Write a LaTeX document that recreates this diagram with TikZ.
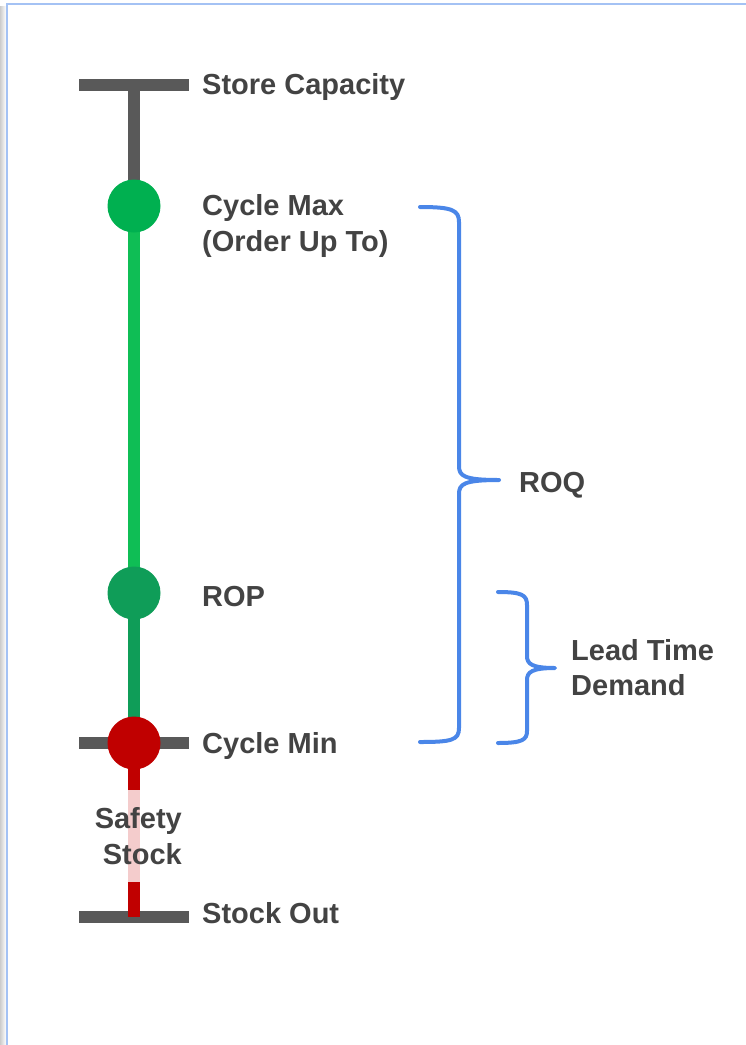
\documentclass[tikz,border=0pt]{standalone}
\usepackage{fontspec}
\setmainfont{Liberation Sans}
\definecolor{txt}{HTML}{434343}
\definecolor{bar}{HTML}{595959}
\definecolor{gcirc}{HTML}{00B050}
\definecolor{gline}{HTML}{0FBE55}
\definecolor{dgreen}{HTML}{0F9D58}
\definecolor{red1}{HTML}{C00000}
\definecolor{pink1}{HTML}{F4CCCC}
\definecolor{blue1}{HTML}{4A86E8}
\definecolor{frame1}{HTML}{A4C2F4}
\begin{document}
\begin{tikzpicture}[x=1pt,y=-1pt,
  lbl/.style={anchor=base west,inner sep=0pt,text=txt,font=\fontsize{29}{35}\selectfont\bfseries,align=left},
  barline/.style={line width=12pt,draw=bar},
  vline/.style={line width=12pt},
  dot/.style={circle,minimum size=53pt,inner sep=0pt},
  bracepath/.style={line width=4pt,draw=blue1,line cap=round,line join=round}]
\useasboundingbox (0,0) rectangle (746,1045);
% frame
\shade[left color=black!20,right color=white] (0,6) rectangle (6,1045);
\draw[frame1,line width=2pt] (6.5,1045) -- (6.5,3.5) -- (746,3.5);
% bars
\coordinate (capL) at (79,85); \coordinate (capR) at (189,85); \coordinate (capC) at (134,85);
\coordinate (minL) at (79,743); \coordinate (minR) at (189,743);
\coordinate (outL) at (79,917); \coordinate (outR) at (189,917); \coordinate (outC) at (134,917);
\coordinate (ss1) at (134,790); \coordinate (ss2) at (134,882);
\draw[barline] (capL) -- (capR);
\draw[barline] (minL) -- (minR);
\draw[barline] (outL) -- (outR);
% circles (positions)
\path (134,206) coordinate (cmaxC) (134,593) coordinate (ropC) (134,743) coordinate (cminC);
\draw[vline,draw=bar] (capC) -- (cmaxC);
\draw[vline,draw=gline] (cmaxC) -- (ropC);
\draw[vline,draw=dgreen] (ropC) -- (cminC);
\draw[vline,draw=red1] (cminC) -- (ss1);
\draw[vline,draw=pink1] (ss1) -- (ss2);
\draw[vline,draw=red1] (ss2) -- (outC);
\node[dot,fill=gcirc] (cmax) at (cmaxC) {};
\node[dot,fill=dgreen] (rop) at (ropC) {};
\node[dot,fill=red1] (cmin) at (cminC) {};
% labels (multi-line nodes: base = last line)
\node[lbl] (tcap) at (202,94) {Store Capacity};
\node[lbl,font=\fontsize{29}{36}\selectfont\bfseries] (tcmax) at (202,251) {Cycle Max\\(Order Up To)};
\node[lbl] (trop) at (202,606) {ROP};
\node[lbl] (tcmin) at (202,753) {Cycle Min};
\node[lbl] (tout) at (202,923) {Stock Out};
\node[lbl,anchor=base east,align=right,font=\fontsize{29}{36}\selectfont\bfseries] (tss) at (182,864) {Safety\\Stock};
\node[lbl] (troq) at (519,492) {ROQ};
\node[lbl] (tlt) at (571,695) {Lead Time\\Demand};
% braces
\coordinate (roqT) at (420,207); \coordinate (roqB) at (420,742); \coordinate (roqTip) at (499,480);
\draw[bracepath] (roqT) .. controls (452,207) and (459,210) .. (459,222) -- (459,466)
  .. controls (459,476) and (464,480) .. (roqTip)
  .. controls (464,480) and (459,484) .. (459,494) -- (459,728)
  .. controls (459,740) and (452,742) .. (roqB);
\coordinate (ltT) at (498,592); \coordinate (ltB) at (498,743); \coordinate (ltTip) at (555,668);
\draw[bracepath] (ltT) .. controls (522,592) and (527,595) .. (527,605) -- (527,656)
  .. controls (527,664) and (532,668) .. (ltTip)
  .. controls (532,668) and (527,672) .. (527,680) -- (527,731)
  .. controls (527,740) and (522,743) .. (ltB);
\end{tikzpicture}
\end{document}
